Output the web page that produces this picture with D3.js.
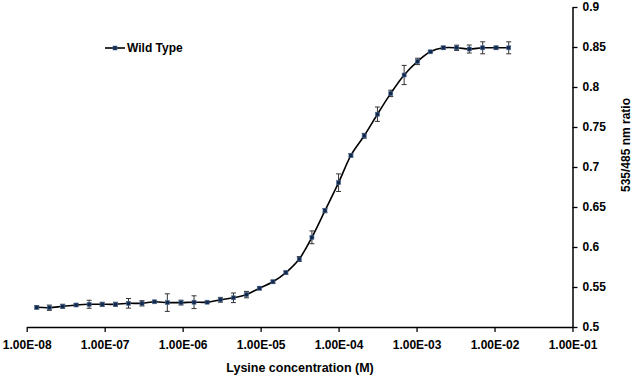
<!DOCTYPE html>
<html>
<head>
<meta charset="utf-8">
<script src="https://cdn.jsdelivr.net/npm/d3@7"></script>
<style>
  body { margin: 0; background: #fff; }
  svg text { font-family: 'Liberation Sans', Arial, sans-serif; font-weight: bold; fill: #000; }
</style>
</head>
<body>
<div id="chart"></div>
<script>
// lysine concentration (M)
const conc = [1.345e-8, 1.95e-8, 2.90e-8, 4.30e-8, 6.32e-8, 9.29e-8, 1.376e-7, 2.02e-7, 3.01e-7, 4.37e-7,
  6.36e-7, 9.53e-7, 1.40e-6, 2.06e-6, 3.05e-6, 4.48e-6, 6.59e-6, 9.68e-6, 1.44e-5, 2.11e-5,
  3.13e-5, 4.55e-5, 6.69e-5, 1.00e-4, 1.44e-4, 2.13e-4, 3.15e-4, 4.67e-4, 6.93e-4, 1.03e-3,
  1.50e-3, 2.20e-3, 3.27e-3, 4.74e-3, 7.05e-3, 1.045e-2, 1.52e-2]
// 535/485 ratio, wild type
const ratio = [0.5246, 0.5241, 0.5259, 0.5275, 0.5284, 0.5284, 0.5284, 0.5296, 0.5296, 0.5315,
  0.5305, 0.5305, 0.531, 0.531, 0.534, 0.5365, 0.5405, 0.5485, 0.5565, 0.568,
  0.585, 0.6121, 0.6454, 0.6804, 0.7146, 0.739, 0.766, 0.792, 0.815, 0.832,
  0.844, 0.849, 0.849, 0.8475, 0.849, 0.849, 0.849]
const err = [0.002, 0.0033, 0.0025, 0.0015, 0.005, 0.0025, 0.0025, 0.006, 0.0033, 0.001,
  0.011, 0.003, 0.008, 0.001, 0.003, 0.006, 0.004, 0.002, 0.002, 0.002,
  0.003, 0.008, 0.0025, 0.011, 0.002, 0.003, 0.009, 0.004, 0.012, 0.004,
  0.001, 0.002, 0.0033, 0.005, 0.0075, 0.002, 0.0075]
const xTicks = [1e-8, 1e-7, 1e-6, 1e-5, 1e-4, 1e-3, 1e-2, 1e-1]
const yTicks = [0.5, 0.55, 0.6, 0.65, 0.7, 0.75, 0.8, 0.85, 0.9]

const width = 638, height = 375

const data = conc.map((c, i) => ({c: c, v: ratio[i], e: err[i]}))

const x = d3.scaleLog().domain([1e-8, 1e-1]).range([26.7, 572.5])
const y = d3.scaleLinear().domain([0.5, 0.9]).range([327, 7])

const svg = d3.select('#chart').append('svg')
  .attr('width', width)
  .attr('height', height)

const fmt = d => {
  const p = Math.round(Math.log10(d))
  return '1.00E' + (p < 0 ? '-' : '+') + String(Math.abs(p)).padStart(2, '0')
}

const xAxis = d3.axisBottom(x).tickValues(xTicks).tickFormat(fmt).tickSize(5).tickSizeOuter(0)
const gx = svg.append('g')
  .attr('transform', 'translate(0,327)')
  .call(xAxis)
gx.select('.domain').attr('stroke', '#000').attr('stroke-width', 1.5)
gx.selectAll('.tick line').attr('stroke', '#000').attr('stroke-width', 1.3)
gx.selectAll('.tick text').attr('dy', '1.2em').style('font-size', '12px').style('font-family', null)

const yAxis = d3.axisRight(y).tickValues(yTicks).tickFormat(d3.format('')).tickSize(5).tickSizeOuter(0)
const gy = svg.append('g')
  .attr('transform', 'translate(572.5,0)')
  .call(yAxis)
gy.select('.domain').attr('stroke', '#000').attr('stroke-width', 1.5)
gy.selectAll('.tick line').attr('stroke', '#000').attr('stroke-width', 1.3)
gy.selectAll('.tick text').attr('x', 10).style('font-size', '12px').style('font-family', null)

// axis titles
svg.append('text')
  .attr('x', 300).attr('y', 372)
  .attr('text-anchor', 'middle')
  .style('font-size', '12.5px')
  .text('Lysine concentration (M)')
svg.append('text')
  .attr('transform', 'translate(630,145) rotate(-90)')
  .attr('text-anchor', 'middle')
  .style('font-size', '12px')
  .text('535/485 nm ratio')

// error bars
const eb = svg.append('g').attr('stroke', '#333').attr('stroke-width', 1)
data.forEach(d => {
  const cx = x(d.c), t = y(d.v + d.e), b = y(d.v - d.e)
  eb.append('line').attr('x1', cx).attr('x2', cx).attr('y1', t).attr('y2', b)
  eb.append('line').attr('x1', cx - 2.5).attr('x2', cx + 2.5).attr('y1', t).attr('y2', t)
  eb.append('line').attr('x1', cx - 2.5).attr('x2', cx + 2.5).attr('y1', b).attr('y2', b)
})

const line = d3.line()
  .x(d => x(d.c))
  .y(d => y(d.v))
  .curve(d3.curveCatmullRom.alpha(0.5))

svg.append('path')
  .datum(data)
  .attr('fill', 'none')
  .attr('stroke', '#000')
  .attr('stroke-width', 1.6)
  .attr('d', line)

svg.selectAll('.pt').data(data).enter().append('rect')
  .attr('class', 'pt')
  .attr('x', d => x(d.c) - 2)
  .attr('y', d => y(d.v) - 2)
  .attr('width', 4)
  .attr('height', 4)
  .attr('fill', '#13294b')
  .attr('stroke', '#4a6a99')
  .attr('stroke-width', 0.6)

// legend
const lg = svg.append('g')
lg.append('line').attr('x1', 105).attr('x2', 125).attr('y1', 48).attr('y2', 48)
  .attr('stroke', '#000').attr('stroke-width', 1.6)
lg.append('rect').attr('x', 113).attr('y', 46).attr('width', 4).attr('height', 4)
  .attr('fill', '#13294b').attr('stroke', '#4a6a99').attr('stroke-width', 0.6)
lg.append('text').attr('x', 127).attr('y', 52).style('font-size', '12px').text('Wild Type')
</script>
</body>
</html>
